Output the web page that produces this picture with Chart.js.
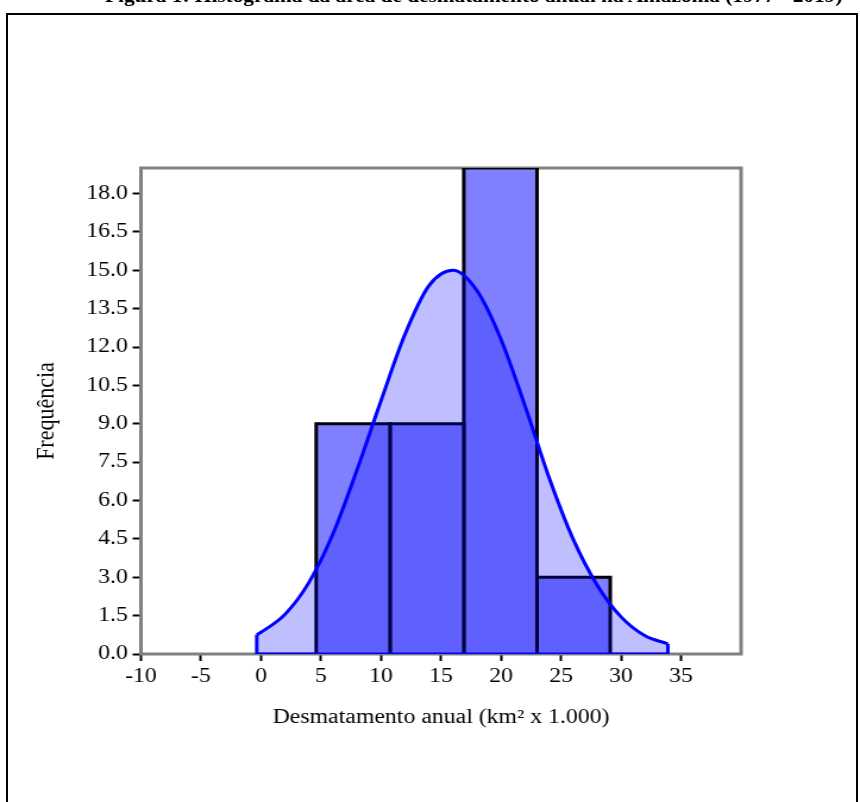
<!DOCTYPE html>
<html lang="pt">
<head>
<meta charset="UTF-8">
<title>Histograma</title>
<script src="https://cdn.jsdelivr.net/npm/chart.js@4/dist/chart.umd.min.js"></script>
<style>
    body { margin: 0; background: #fff; overflow: hidden; }
    #frame { position: absolute; left: 6px; top: 13px; width: 848px; height: 800px; border: 2px solid #000; border-bottom: none; }
    #title { position: absolute; left: 105px; top: -15px; font: bold 19px "Liberation Serif"; white-space: nowrap; transform: scaleX(1.12); transform-origin: 0 0; }
    #myChart { position: absolute; left: 0; top: 0; width: 860px !important; height: 802px !important; }
</style>
</head>
<body>
<div id="title">Figura 1: Histograma da área de desmatamento anual na Amazônia (1977 - 2019)</div>
<div id="frame"></div>
<canvas id="myChart" width="723" height="802"></canvas>

<script>
    // histograma
    var binEdges = [4.6, 10.75, 16.9, 23.0, 29.1];
    var counts = [9, 9, 19, 3];

    // curva normal
    var curveX = [-0.35, 0, 2, 4, 6, 8, 10, 12, 14, 16, 18, 20, 22, 24, 26, 28, 30, 32, 33.9];
    var curveY = [0.75, 0.85, 1.55, 2.8, 4.7, 7.2, 9.9, 12.5, 14.4, 15.0, 14.2, 12.3, 9.7, 6.9, 4.5, 2.7, 1.45, 0.71, 0.4];

    var xMin = -10, xMax = 40, xStep = 5, xLastTick = 35;
    var yMin = 0, yMax = 19, yStep = 1.5, yLastTick = 18;

    var serif = "'Liberation Serif', 'Times New Roman', serif";

    (function(){
        var ctx = document.getElementById("myChart").getContext("2d");

        var curvePts = curveX.map(function (x, i) { return {x: x, y: curveY[i]}; });
        var n = curveX.length - 1;
        var edgePts = [
            {x: curveX[0], y: curveY[0]},
            {x: curveX[0], y: 0},
            {x: curveX[n], y: 0},
            {x: curveX[n], y: curveY[n]}
        ];

        var datasets = [
            {
                data: curvePts,
                showLine: true,
                borderColor: "#0000ff",
                borderWidth: 3,
                backgroundColor: "rgba(0,0,255,0.25)",
                fill: 'origin',
                cubicInterpolationMode: 'monotone',
                pointRadius: 0
            },
            {
                data: edgePts,
                showLine: true,
                borderColor: "#0000ff",
                borderWidth: 3,
                fill: false,
                tension: 0,
                pointRadius: 0
            }
        ];

        counts.forEach(function (c, i) {
            var a = binEdges[i], b = binEdges[i + 1];
            datasets.push({
                data: [{x: a, y: 0}, {x: a, y: c}, {x: b, y: c}, {x: b, y: 0}],
                showLine: true,
                borderColor: "#000",
                borderWidth: 3,
                backgroundColor: "#8080ff",
                fill: 'origin',
                tension: 0,
                pointRadius: 0
            });
        });

        var framePlugin = {
            id: 'frame',
            beforeDatasetsDraw: function (chart) {
                var a = chart.chartArea, c = chart.ctx;
                c.save();
                c.strokeStyle = "#808080";
                c.lineWidth = 3;
                c.strokeRect(a.left, a.top, a.right - a.left, a.bottom - a.top);
                c.restore();
            }
        };

        new Chart(ctx, {
            type: 'scatter',
            data: {datasets: datasets},
            plugins: [framePlugin],
            options: {
                responsive: false,
                animation: false,
                layout: {padding: {left: 22, right: 100, top: 168, bottom: 68}},
                plugins: {legend: {display: false}, tooltip: {enabled: false}},
                scales: {
                    x: {
                        type: 'linear',
                        min: xMin,
                        max: xMax,
                        afterBuildTicks: function (s) {
                            s.ticks = s.ticks.filter(function (t) { return t.value <= xLastTick; });
                        },
                        afterFit: function (s) { s.height = 80; },
                        ticks: {stepSize: xStep, color: "#000", padding: 4, font: {family: serif, size: 20}},
                        grid: {display: true, drawOnChartArea: false, tickLength: 7, tickColor: "#000", tickWidth: 2},
                        border: {display: false},
                        title: {display: true, text: "Desmatamento anual (km² x 1.000)", color: "#000",
                                font: {family: serif, size: 20}, padding: {top: 4, bottom: 4}}
                    },
                    y: {
                        min: yMin,
                        max: yMax,
                        afterBuildTicks: function (s) {
                            s.ticks = s.ticks.filter(function (t) { return t.value <= yLastTick; });
                        },
                        afterFit: function (s) { s.width = 96.5; },
                        ticks: {stepSize: yStep, color: "#000", padding: 4, font: {family: serif, size: 20},
                                callback: function (v) { return v.toFixed(1); }},
                        grid: {display: true, drawOnChartArea: false, tickLength: 7, tickColor: "#000", tickWidth: 2},
                        border: {display: false},
                        title: {display: true, text: "Frequência", color: "#000",
                                font: {family: serif, size: 22}, padding: {top: 4, bottom: 4}}
                    }
                }
            }
        });
    })();
</script>
</body>
</html>
